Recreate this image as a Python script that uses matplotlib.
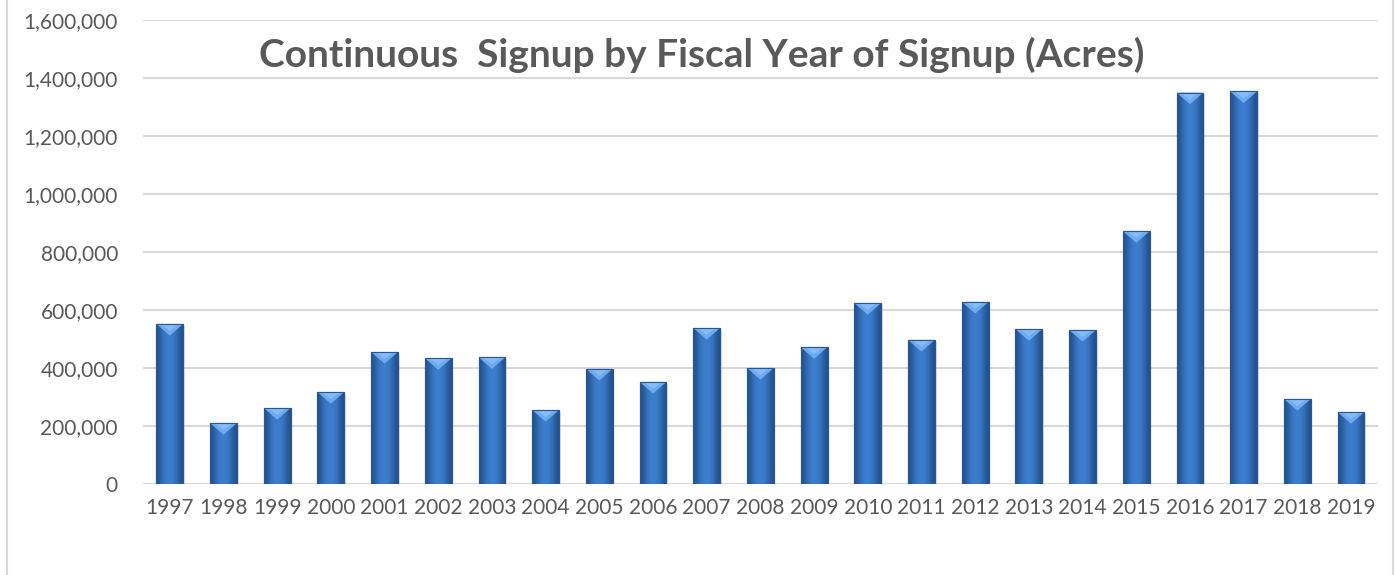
import numpy as np
import matplotlib.pyplot as plt
from matplotlib.lines import Line2D
from matplotlib.patches import Polygon
from matplotlib.ticker import FuncFormatter

years = [str(y) for y in range(1997, 2020)]
acres = [552000, 210000, 262000, 317000, 455000, 434000, 437000, 255000,
         397000, 352000, 538000, 400000, 472000, 624000, 497000, 628000,
         534000, 531000, 872000, 1350000, 1354000, 293000, 248000]

title = 'Continuous  Signup by Fiscal Year of Signup (Acres)'
grey = '#595959'

plt.rcParams['font.family'] = ['Lato', 'DejaVu Sans']

fig = plt.figure(figsize=(13.96, 5.75), dpi=100)
ax = fig.add_axes([0.1024, 0.1583, 0.8846, 0.8067])

x = np.arange(len(years))
bars = ax.bar(x, acres, width=0.5, color='#3b78c6', edgecolor='#2c5b98',
              linewidth=0.8, zorder=3)

# horizontal shading + bevelled top on each bar
grad = np.array([[0.0, 0.55, 0.9, 1.0, 0.9, 0.55, 0.0]])
cmap = plt.matplotlib.colors.LinearSegmentedColormap.from_list(
    'bar', ['#23518e', '#3d7fd0'])
for b in bars:
    x0, w, h = b.get_x(), b.get_width(), b.get_height()
    im = ax.imshow(grad, cmap=cmap, aspect='auto', interpolation='bicubic',
                   extent=(x0, x0 + w, 0, h), zorder=3)
    im.set_clip_path(b)
    dip = 40000
    ax.add_patch(Polygon([(x0, h), (x0 + w, h), (x0 + w * 0.5, h - dip)],
                         closed=True, facecolor='#6eaaf0', edgecolor='none',
                         zorder=4))
    ax.add_patch(Polygon([(x0 + w * 0.15, h), (x0 + w * 0.85, h),
                          (x0 + w * 0.5, h - dip * 0.6)], closed=True,
                         facecolor='#86bcf6', edgecolor='none', zorder=4))
    ax.add_patch(plt.Rectangle((x0, 0), w, h, fill=False,
                               edgecolor='#2a578f', linewidth=0.8, zorder=5))
    ax.add_patch(plt.Rectangle((x0 + w * 0.06, -6000), w, h, facecolor='#c8c8c8',
                               edgecolor='none', alpha=0.5, zorder=2))

ax.set_xlim(-0.5, len(years) - 0.5)
ax.set_ylim(0, 1600000)
ax.set_yticks(np.arange(0, 1600001, 200000))
ax.yaxis.set_major_formatter(FuncFormatter(lambda v, p: f'{int(v):,}'))
ax.set_xticks(x)
ax.set_xticklabels(years)
ax.tick_params(axis='both', length=0, labelcolor=grey)
ax.tick_params(axis='x', pad=10, labelsize=15)
ax.tick_params(axis='y', pad=18, labelsize=15)
ax.grid(axis='y', color='#d9d9d9', linewidth=1.5, zorder=0)
for s in ax.spines.values():
    s.set_visible(False)
ax.axhline(0, color='#d9d9d9', linewidth=1.5, zorder=1)

fig.text(0.503, 0.905, title, ha='center', va='center', fontsize=28,
         fontweight='bold', color=grey)

fig.add_artist(Line2D([0.005, 0.005], [0, 1], color='#d9d9d9', linewidth=1.5))
fig.add_artist(Line2D([0.998, 0.998], [0, 1], color='#d9d9d9', linewidth=1.5))

fig.savefig('out.png', dpi=100)
